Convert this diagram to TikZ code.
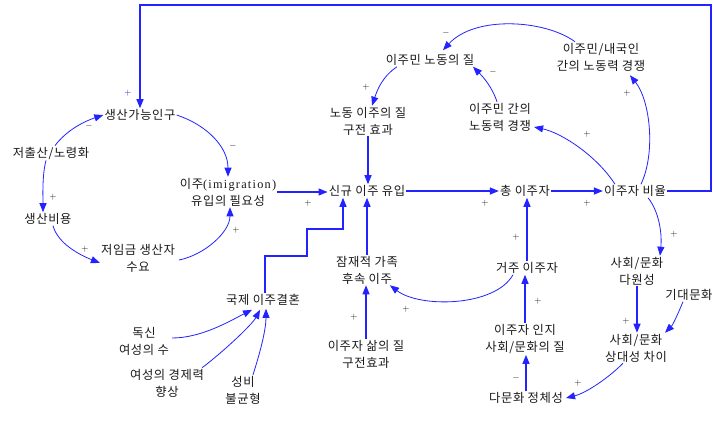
\documentclass[tikz,border=0pt]{standalone}
\usepackage{fontspec}
\setmainfont{Noto Sans CJK KR}[LetterSpace=5]
\newfontfamily\lat{Liberation Serif}[LetterSpace=10]
\usetikzlibrary{arrows.meta,calc}
\definecolor{arr}{RGB}{35,35,255}
\definecolor{txt}{RGB}{25,25,25}
\begin{document}
\begin{tikzpicture}[x=1pt,y=-1pt,
  var/.style={align=center,inner sep=1pt,text=txt,font=\fontsize{12.3}{17}\selectfont},
  conn/.style={draw=arr,line width=0.8pt,-{Triangle[length=9pt,width=7pt]}},
  sconn/.style={conn,line width=1.2pt},
  pol/.style={inner sep=0pt,text=txt,font=\fontsize{9}{9}\selectfont}]
\useasboundingbox[fill=white] (0,0) rectangle (713,426);
% nodes
\node[var] (wpop) at (140,115) {생산가능인구};
\node[var] (low) at (51,153) {저출산/노령화};
\node[var] (cost) at (48,219) {생산비용};
\node[var] (dem) at (138,258) {저임금 생산자\\수요};
\node[var] (need) at (228,192) {이주{\lat(imigration)}\\유입의 필요성};
\node[var] (new) at (367,191) {신규 이주 유입};
\node[var] (tot) at (525,191) {총 이주자};
\node[var] (ratio) at (635,191) {이주자 비율};
\node[var] (lq) at (368,121) {노동 이주의 질\\구전 효과};
\node[var] (mq) at (430,60) {이주민 노동의 질};
\node[var] (mc) at (500,117) {이주민 간의\\노동력 경쟁};
\node[var] (mi) at (601,57) {이주민/내국인\\간의 노동력 경쟁};
\node[var] (fam) at (367,270) {잠재적 가족\\후속 이주};
\node[var] (res) at (527,268) {거주 이주자};
\node[var] (plur) at (637,271) {사회/문화\\다원성};
\node[var] (exp) at (689,295) {기대문화};
\node[var] (rel) at (636,348) {사회/문화\\상대성 차이};
\node[var] (perc) at (525,339) {이주자 인지\\사회/문화의 질};
\node[var] (mc2) at (526,398) {다문화 정체성};
\node[var] (lifeq) at (366,354) {이주자 삶의 질\\구전효과};
\node[var] (marr) at (263,300) {국제 이주결혼};
\node[var] (single) at (144,341) {독신\\여성의 수};
\node[var] (econ) at (167,383) {여성의 경제력\\향상};
\node[var] (sex) at (243,390) {성비\\불균형};
% helper coordinates
\coordinate (tr) at (711,5);
\coordinate (s1) at (307,256);
\coordinate (s2) at (343,229);
% straight connectors
\draw[sconn] (ratio.east) -| (tr) -| (wpop.north);
\draw[sconn] (need.east) -- (need.east -| new.west);
\draw[sconn] (lq.south) -- (lq.south |- new.north);
\draw[sconn] (new.east) -- (tot.west);
\draw[sconn] (tot.east) -- (ratio.west);
\draw[sconn] (res.north) -- (res.north |- tot.south);
\draw[sconn] (plur.south) -- (plur.south |- rel.north);
\draw[sconn] (mc2.north) -- (mc2.north |- perc.south);
\draw[sconn] (perc.north) -- (perc.north |- res.south);
\draw[sconn] (lifeq.north) -- (lifeq.north |- fam.south);
\draw[sconn] (fam.north) -- (fam.north |- new.south);
\draw[sconn] ($(marr.north)+(2,0)$) |- (s1) |- (s2) -- ($(new.south)+(-24,0)$);
% curved connectors
\draw[conn] ($(low.north)+(4,0)$) .. controls +(12,-16) and +(-18,6) .. (wpop.west);
\draw[conn] ($(low.south)+(-5,0)$) .. controls +(-4,15) and +(0,-15) .. ($(cost.north)+(-5,0)$);
\draw[conn] ($(cost.south)+(5,0)$) .. controls +(5,18) and +(-20,-8) .. ($(dem.west)+(0,5)$);
\draw[conn] ($(dem.east)+(3,2)$) .. controls +(25,-5) and +(0,25) .. ($(need.south)+(2,0)$);
\draw[conn] (wpop.east) .. controls +(30,10) and +(0,-30) .. (need.north);
\draw[conn] ($(mq.south)+(-33,0)$) .. controls +(-15,10) and +(5,-15) .. ($(lq.north)+(4,0)$);
\draw[conn] ($(mi.north)+(-26,0)$) .. controls +(-30,-22) and +(32,-35) .. ($(mq.north)+(13,-3)$);
\draw[conn] ($(mc.north)+(-3,0)$) .. controls +(-5,-15) and +(10,10) .. ($(mq.south)+(43,0)$);
\draw[conn] ($(ratio.north)+(-20,0)$) .. controls +(-18,-28) and +(28,6) .. ($(mc.east)+(2,10)$);
\draw[conn] ($(ratio.north)+(6,0)$) .. controls +(15,-32) and +(20,25) .. ($(mi.south)+(29,3)$);
\draw[conn] ($(ratio.south)+(13,0)$) .. controls +(12,15) and +(2,-20) .. ($(plur.north)+(23,0)$);
\draw[conn] ($(exp.south)+(-6,0)$) .. controls +(-5,12) and +(8,-8) .. ($(rel.north)+(29,0)$);
\draw[conn] ($(rel.south)+(-13,0)$) .. controls +(-15,15) and +(20,-5) .. ($(mc2.east)+(2,0)$);
\draw[conn] ($(res.south)+(-14,0)$) .. controls +(-18,32) and +(30,23) .. ($(fam.south)+(23,0)$);
\draw[conn] ($(single.east)+(2,-3)$) .. controls +(30,0) and +(-20,10) .. ($(marr.south)+(-11,3)$);
\draw[conn] ($(econ.north east)+(-3,0)$) .. controls +(20,-15) and +(-8,15) .. ($(marr.south)+(-3,3)$);
\draw[conn] ($(sex.north)+(10,0)$) .. controls +(8,-25) and +(0,20) .. ($(marr.south)+(3,2)$);
% polarity labels
\node[pol,text=arr!80!black] (p1) at (128,93) {$+$};
\node[pol] (p2) at (89,126) {$-$};
\node[pol] (p3) at (53,197) {$+$};
\node[pol] (p4) at (85,249) {$+$};
\node[pol] (p5) at (236,230) {$+$};
\node[pol] (p6) at (233,146) {$-$};
\node[pol] (p7) at (308,203) {$+$};
\node[pol] (p8) at (366,87) {$+$};
\node[pol] (p9) at (446,33) {$-$};
\node[pol] (p10) at (493,72) {$-$};
\node[pol] (p11) at (587,134) {$+$};
\node[pol] (p12) at (627,93) {$+$};
\node[pol] (p13) at (485,203) {$+$};
\node[pol] (p14) at (587,203) {$+$};
\node[pol] (p15) at (516,237) {$+$};
\node[pol] (p16) at (674,234) {$+$};
\node[pol] (p17) at (626,321) {$+$};
\node[pol] (p18) at (578,383) {$+$};
\node[pol] (p19) at (516,378) {$-$};
\node[pol] (p20) at (538,301) {$+$};
\node[pol] (p21) at (406,309) {$+$};
\node[pol] (p22) at (354,317) {$+$};
\end{tikzpicture}
\end{document}
